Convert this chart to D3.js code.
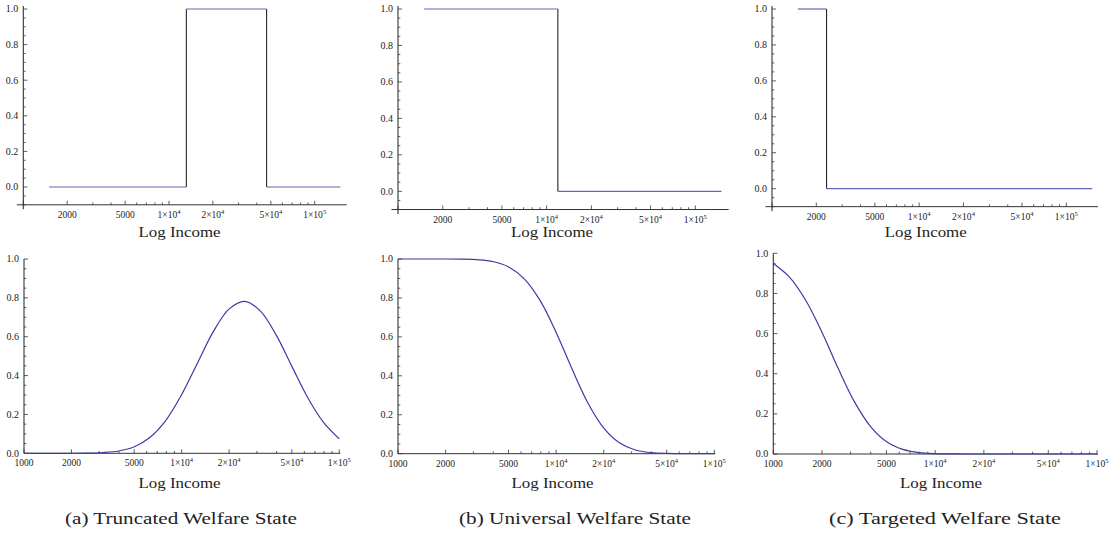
<!DOCTYPE html>
<html>
<head>
<meta charset="utf-8">
<script src="https://cdn.jsdelivr.net/npm/d3@7"></script>
<style>
  body { margin: 0; background: #fff; }
  text { font-family: "Liberation Serif", "Times New Roman", Times, serif; fill: #222; }
</style>
</head>
<body>
<div id="chart"></div>
<script>
// values

// step rules (top row): edges of each income band and the share on each band
var truncatedEdges = [1500, 13150, 46800, 150000];
var truncatedLevels = [0, 1, 0];
var universalEdges = [1500, 11900, 150000];
var universalLevels = [1, 0];
var targetedEdges = [1500, 2350, 150000];
var targetedLevels = [1, 0];

// smooth versions (bottom row), sampled on a log income grid
var incomeGrid = [1000, 1259, 1585, 1995, 2512, 3162, 3981, 5012, 6310, 7943, 10000,
  12589, 15849, 19953, 25119, 31623, 39811, 50119, 63096, 79433, 100000];
var truncatedSmooth = [0, 0, 0, 0.0002, 0.001, 0.004, 0.012, 0.034, 0.083, 0.170, 0.302,
  0.464, 0.625, 0.742, 0.782, 0.732, 0.608, 0.446, 0.286, 0.159, 0.074];
var universalSmooth = [1, 1, 1, 1, 0.9992, 0.9965, 0.987, 0.959, 0.897, 0.785, 0.623,
  0.436, 0.262, 0.133, 0.056, 0.019, 0.0055, 0.0013, 0.0002, 0, 0];
var targetedSmooth = [0.949, 0.881, 0.766, 0.608, 0.428, 0.262, 0.138, 0.061, 0.023, 0.007, 0.0018,
  0.0004, 0, 0, 0, 0, 0, 0, 0, 0, 0];

var yTicks = [0, 0.2, 0.4, 0.6, 0.8, 1.0];
var topXTicks = [2000, 5000, 10000, 20000, 50000, 100000];
var bottomXTicks = [1000, 2000, 5000, 10000, 20000, 50000, 100000];
var xLabel = "Log Income";
var captions = ["(a) Truncated Welfare State", "(b) Universal Welfare State", "(c) Targeted Welfare State"];

var svgWidth = 1116;
var svgHeight = 535;
var lineColor = "#3b3ba6";

var svg = d3.select("#chart")
  .append("svg")
  .attr("width", svgWidth)
  .attr("height", svgHeight);

// pixel layout of the six panels
var topPanels = [
  { x: [23.3, 314.7], y: [187, 9], xEnd: 346.7, edges: truncatedEdges, levels: truncatedLevels },
  { x: [398.0, 695.3], y: [191.3, 9], xEnd: 728.7, edges: universalEdges, levels: universalLevels },
  { x: [772.0, 1066.3], y: [188.7, 9], xEnd: 1098, edges: targetedEdges, levels: targetedLevels }
];
var bottomPanels = [
  { x: [24, 339.3], y: [453.3, 259], values: truncatedSmooth },
  { x: [398, 714.3], y: [453.7, 259], values: universalSmooth },
  { x: [773.3, 1097], y: [454, 253.3], values: targetedSmooth }
];
var labelPos = [
  [179.5, 236.5], [552, 236.5], [925.7, 236.5],
  [179.5, 487.5], [552.5, 487.5], [941, 487.5]
];
var captionX = [181, 575, 945];

// log ticks: 1,2,5 are labelled, the rest are minor
function logTicks(lo, hi) {
  var out = [];
  [1000, 10000, 100000].forEach(function(d) {
    for (var m = 1; m <= 9; m++) {
      var v = m * d;
      if (v >= lo && v <= hi) out.push({ v: v, major: (m === 1 || m === 2 || m === 5) });
    }
  });
  return out;
}

// 1000..5000 plain, larger values as m×10^e
function tickLabel(sel, v) {
  if (v < 10000) {
    sel.text(v);
  } else {
    var e = Math.floor(Math.log10(v) + 1e-9);
    var m = Math.round(v / Math.pow(10, e));
    sel.append("tspan").text(m + "\u00d710");
    sel.append("tspan").attr("dy", -4).attr("font-size", 6.5).text(e);
  }
}

function drawAxes(g, x, y, xAxisVal, xStart, xEnd, yBottom, yTop, labels) {
  var ax = y(xAxisVal);
  var ox = x(1000);

  // x axis
  g.append("line")
    .attr("x1", xStart).attr("x2", xEnd)
    .attr("y1", ax).attr("y2", ax)
    .attr("stroke", "#333").attr("stroke-width", 1);

  var hi = x.invert(xEnd);
  logTicks(1000, hi).forEach(function(t) {
    var px = x(t.v);
    g.append("line")
      .attr("x1", px).attr("x2", px)
      .attr("y1", ax).attr("y2", ax - (t.major ? 4 : 2.3))
      .attr("stroke", "#333").attr("stroke-width", 0.8);
  });
  labels.forEach(function(v) {
    var t = g.append("text")
      .attr("x", x(v)).attr("y", ax + 13)
      .attr("text-anchor", "middle")
      .attr("font-size", 9.5);
    tickLabel(t, v);
  });

  // y axis
  g.append("line")
    .attr("x1", ox).attr("x2", ox)
    .attr("y1", yBottom).attr("y2", yTop)
    .attr("stroke", "#333").attr("stroke-width", 1.1);

  d3.range(Math.round(xAxisVal * 20), 21).forEach(function(k) {
    var v = k / 20;
    var major = k % 4 === 0;
    g.append("line")
      .attr("x1", ox).attr("x2", ox + (major ? 4 : 2.3))
      .attr("y1", y(v)).attr("y2", y(v))
      .attr("stroke", "#333").attr("stroke-width", 0.8);
  });
  yTicks.forEach(function(v) {
    g.append("text")
      .attr("x", ox - 5).attr("y", y(v))
      .attr("dy", "0.33em")
      .attr("text-anchor", "end")
      .attr("font-size", 10)
      .text(d3.format(".1f")(v));
  });
}

// top row: step functions
topPanels.forEach(function(p, i) {
  var g = svg.append("g");
  var x = d3.scaleLog().domain([1000, 100000]).range(p.x);
  var y = d3.scaleLinear().domain([0, 1]).range(p.y);

  drawAxes(g, x, y, -0.1, x(1000) - 6.5, p.xEnd, y(-0.125), y(1.017), topXTicks);

  // vertical jumps in black
  for (var k = 1; k < p.levels.length; k++) {
    g.append("line")
      .attr("x1", x(p.edges[k])).attr("x2", x(p.edges[k]))
      .attr("y1", y(p.levels[k - 1])).attr("y2", y(p.levels[k]))
      .attr("stroke", "#111").attr("stroke-width", 1);
  }
  // flat parts in blue
  p.levels.forEach(function(lv, k) {
    g.append("line")
      .attr("x1", x(p.edges[k])).attr("x2", x(p.edges[k + 1]))
      .attr("y1", y(lv)).attr("y2", y(lv))
      .attr("stroke", "#6464b8").attr("stroke-width", 1.2);
  });
});

// bottom row: smooth curves
bottomPanels.forEach(function(p, i) {
  var g = svg.append("g");
  var x = d3.scaleLog().domain([1000, 100000]).range(p.x);
  var y = d3.scaleLinear().domain([0, 1]).range(p.y);

  drawAxes(g, x, y, 0, x(1000), x(100000) + 1, y(0), y(1), bottomXTicks);

  var line = d3.line()
    .x(function(d, k) { return x(incomeGrid[k]); })
    .y(function(d) { return y(d); })
    .curve(d3.curveCatmullRom.alpha(0.5));

  g.append("path")
    .datum(p.values)
    .attr("d", line)
    .attr("fill", "none")
    .attr("stroke", lineColor)
    .attr("stroke-width", 1.2);
});

// axis titles
labelPos.forEach(function(pos) {
  svg.append("text")
    .attr("x", pos[0]).attr("y", pos[1])
    .attr("text-anchor", "middle")
    .attr("font-size", 15)
    .attr("textLength", 82)
    .attr("lengthAdjust", "spacingAndGlyphs")
    .text(xLabel);
});

// sub-figure captions
captions.forEach(function(c, i) {
  svg.append("text")
    .attr("x", captionX[i]).attr("y", 524)
    .attr("text-anchor", "middle")
    .attr("font-size", 17)
    .attr("textLength", 232)
    .attr("lengthAdjust", "spacingAndGlyphs")
    .text(c);
});
</script>
</body>
</html>
